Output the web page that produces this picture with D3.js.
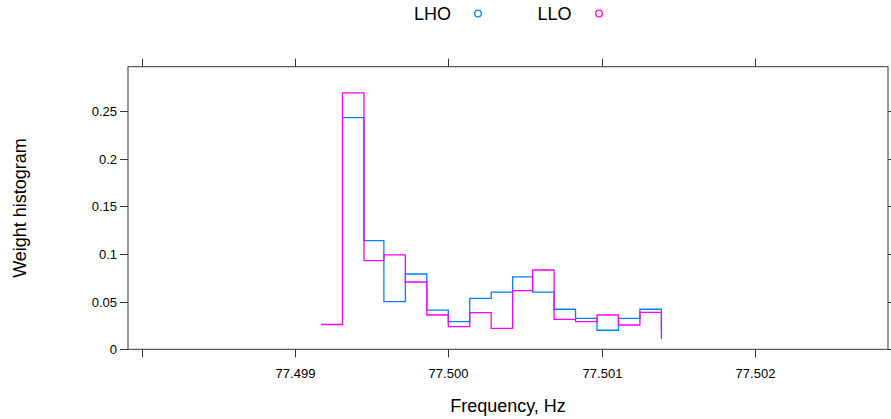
<!DOCTYPE html>
<html><head><meta charset="utf-8">
<script src="https://cdn.jsdelivr.net/npm/d3@7"></script>
<style>body{margin:0;background:#fff}svg{display:block}text{font-family:"Liberation Sans",Arial,sans-serif}</style>
</head><body>
<script>
const freq = [77.49917,77.49931,77.49945,77.49958,77.49972,77.49986,77.50000,77.50014,77.50028,77.50042,77.50055,77.50069,77.50083,77.50097,77.50111,77.50125,77.50139];
const lhoFreq = freq.slice(1);
const lhoValues = [0.243,0.114,0.050,0.079,0.041,0.029,0.0535,0.060,0.076,0.060,0.042,0.0325,0.020,0.0325,0.042,0.020];
const lloFreq = freq;
const lloValues = [0.026,0.269,0.093,0.099,0.0706,0.036,0.0237,0.0384,0.022,0.0615,0.0832,0.0315,0.029,0.036,0.0255,0.0388,0.0108];
const xTicks = [77.498,77.499,77.500,77.501,77.502];
const xTickLabels = ["","77.499","77.500","77.501","77.502"];
const yTicks = [0,0.05,0.1,0.15,0.2,0.25];
const yTickLabels = ["0","0.05","0.1","0.15","0.2","0.25"];
const seriesNames = ["LHO","LLO"];
const seriesColors = ["#0080ff","#ff00ff"];

const W=891,H=419;
const L=128,R=888,T=66.7,B=349.3;
const svg=d3.select("body").append("svg").attr("width",W).attr("height",H);
const x=d3.scaleLinear().domain([77.497911,77.502868]).range([L,R]);
const y=d3.scaleLinear().domain([0,0.2965]).range([B,T]);

const fr=svg.append("g");
fr.append("rect").attr("x",L).attr("y",T).attr("width",R-L).attr("height",B-T)
  .attr("fill","none").attr("stroke","#333").attr("stroke-width",1);
const tl=8;
xTicks.forEach((t,i)=>{
  const px=Math.round(x(t))+0.5;
  fr.append("line").attr("x1",px).attr("x2",px).attr("y1",B).attr("y2",B+tl).attr("stroke","#333");
  fr.append("line").attr("x1",px).attr("x2",px).attr("y1",T).attr("y2",T-tl).attr("stroke","#333");
  fr.append("text").attr("x",px).attr("y",B+29).attr("text-anchor","middle").attr("font-size",13).text(xTickLabels[i]);
});
yTicks.forEach((t,i)=>{
  const py=Math.round(y(t))+0.5;
  fr.append("line").attr("x1",L).attr("x2",L-tl).attr("y1",py).attr("y2",py).attr("stroke","#333");
  fr.append("line").attr("x1",R).attr("x2",R+tl).attr("y1",py).attr("y2",py).attr("stroke","#333");
  fr.append("text").attr("x",L-11).attr("y",py+4.5).attr("text-anchor","end").attr("font-size",13).text(yTickLabels[i]);
});

const stepLine=d3.line().x(d=>x(d[0])).y(d=>y(d[1])).curve(d3.curveStepAfter);
const data=[d3.zip(lhoFreq,lhoValues),d3.zip(lloFreq,lloValues)];
data.forEach((d,i)=>{
  svg.append("path").attr("d",stepLine(d)).attr("fill","none")
    .attr("stroke",seriesColors[i]).attr("stroke-width",1.3);
});

// legend
const lg=[{tx:414,cx:478},{tx:537.5,cx:599}];
seriesNames.forEach((n,i)=>{
  svg.append("text").attr("x",lg[i].tx).attr("y",20).attr("font-size",18).text(n);
  svg.append("circle").attr("cx",lg[i].cx).attr("cy",13.5).attr("r",3.3)
    .attr("fill","none").attr("stroke",seriesColors[i]).attr("stroke-width",1.3);
});

svg.append("text").attr("x",(L+R)/2).attr("y",412).attr("text-anchor","middle").attr("font-size",18).text("Frequency, Hz");
svg.append("text").attr("transform",`translate(26,${(T+B)/2}) rotate(-90)`).attr("text-anchor","middle").attr("font-size",18).text("Weight histogram");
</script>
</body></html>
